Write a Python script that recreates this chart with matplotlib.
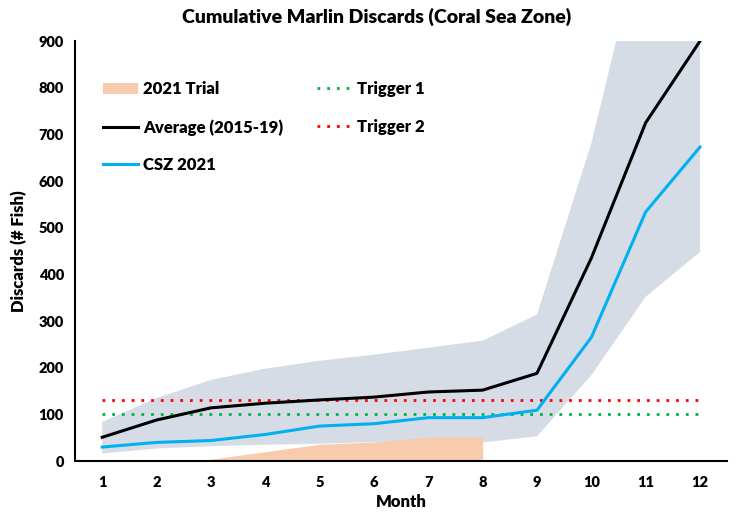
import matplotlib
matplotlib.use("Agg")
import numpy as np
import matplotlib.pyplot as plt

# --------------------------------------------------
# Data
# --------------------------------------------------
months = [1, 2, 3, 4, 5, 6, 7, 8, 9, 10, 11, 12]
average_2015_19 = [51, 88, 114, 124, 131, 137, 148, 152, 188, 435, 725, 900]
csz_2021 = [30, 40, 44, 57, 75, 80, 93, 93, 109, 265, 534, 673]
range_low = [16, 27, 32, 35, 37, 41, 42, 40, 53, 184, 352, 448]
range_high = [84, 135, 174, 198, 215, 228, 243, 258, 314, 681, 1160, 1500]

trial_months = [3, 4, 5, 6, 7, 8]
trial_2021 = [4, 20, 36, 41, 51, 52]

trigger_1 = 100
trigger_2 = 130

# --------------------------------------------------
# Style
# --------------------------------------------------
plt.rcParams["font.family"] = ["Lato", "DejaVu Sans"]
plt.rcParams["font.weight"] = "heavy"
W = "heavy"

fig = plt.figure(figsize=(7.36, 5.14), dpi=100)
ax = fig.add_axes([0.102, 0.103, 0.886, 0.817])

ax.fill_between(months, range_low, range_high, color="#D6DCE5", lw=0, zorder=1)
ax.fill_between(trial_months, 0, trial_2021, color="#F8CBAD", lw=0, zorder=2,
                label="2021 Trial")
ax.plot(months, average_2015_19, color="black", lw=2.2, zorder=4,
        label="Average (2015-19)")
ax.plot(months, csz_2021, color="#00B0F0", lw=2.2, zorder=4, label="CSZ 2021")
ax.plot(months, [trigger_1] * len(months), color="#00B050", lw=2,
        ls=(0, (1, 2.5)), zorder=3, label="Trigger 1")
ax.plot(months, [trigger_2] * len(months), color="#FF0000", lw=2,
        ls=(0, (1, 2.5)), zorder=3, label="Trigger 2")

ax.set_xlim(0.5, 12.5)
ax.set_ylim(0, 900)
ax.set_xticks(months)
ax.set_yticks(np.arange(0, 901, 100))
ax.tick_params(axis="both", length=0, labelsize=10.5, pad=8)
ax.tick_params(axis="x", pad=11)
for lab in ax.get_xticklabels() + ax.get_yticklabels():
    lab.set_fontweight(W)

for side in ["top", "right"]:
    ax.spines[side].set_visible(False)
ax.spines["left"].set_linewidth(1.5)
ax.spines["bottom"].set_linewidth(1.5)

ax.set_xlabel("Month", fontsize=12, fontweight=W, labelpad=3)
ax.set_ylabel("Discards (# Fish)", fontsize=12, fontweight=W, labelpad=8)
fig.suptitle("Cumulative Marlin Discards (Coral Sea Zone)", fontsize=14,
             fontweight=W, x=0.512, y=0.985)

ax.legend(ncol=2, loc="upper left", bbox_to_anchor=(0.02, 0.94), frameon=False,
          prop={"size": 12, "weight": W}, handlelength=2.1,
          handletextpad=0.3, labelspacing=1.3, columnspacing=2.05)

fig.savefig("out.png", dpi=100)
plt.close(fig)
